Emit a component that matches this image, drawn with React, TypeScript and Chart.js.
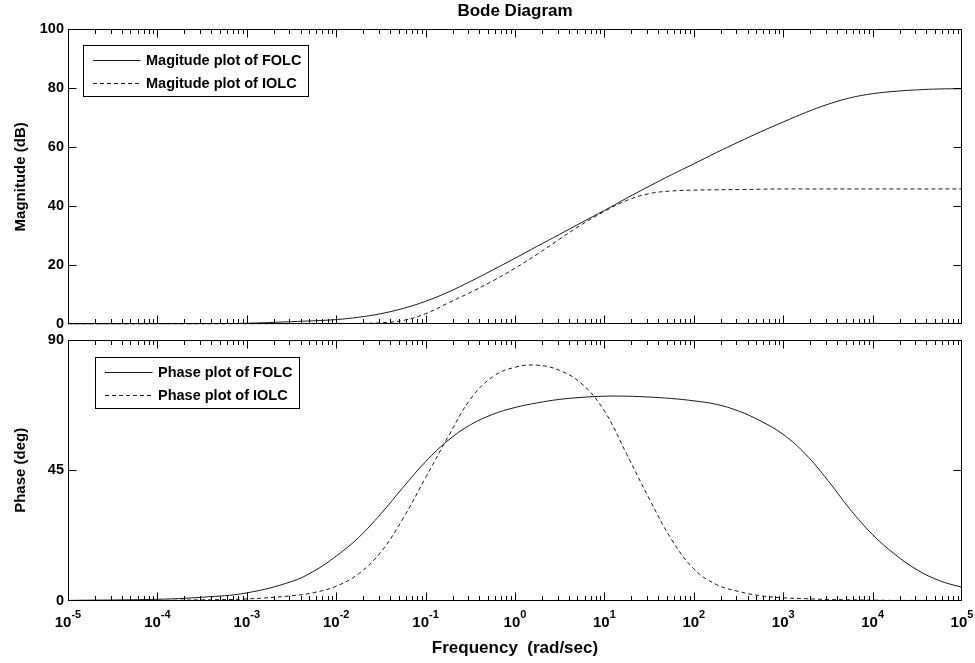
import React, { useEffect, useRef } from 'react';
import { Chart, registerables } from 'chart.js';

Chart.register(...registerables);

const FONT = '"Liberation Sans", Arial, Helvetica, sans-serif';
Chart.defaults.font.family = FONT;

// Frequency grid (rad/sec)
const frequency = [
  1e-5, 1e-4, 3.16e-4, 1e-3, 3.16e-3, 5.62e-3, 1e-2, 1.78e-2, 3.16e-2, 5.62e-2,
  0.1, 0.178, 0.316, 0.562, 1, 1.78, 3.16, 5.62, 10, 17.8,
  31.6, 56.2, 100, 178, 316, 562, 1000, 1778, 3162, 5623,
  1e4, 17780, 31620, 56230, 1e5,
];

// Magnitude (dB)
const magnitudeFOLC = [
  0, 0.05, 0.15, 0.35, 0.9, 1.2, 1.6, 2.4, 3.6, 5.4,
  7.8, 10.9, 14.5, 18.4, 22.4, 26.5, 30.5, 34.6, 38.6, 42.8,
  46.8, 50.7, 54.4, 58.2, 61.8, 65.3, 68.6, 71.8, 74.6, 76.8,
  78.2, 79.0, 79.5, 79.8, 79.9,
];
const magnitudeIOLC = [
  0, 0, 0, 0.02, 0.05, 0.1, 0.15, 0.3, 0.5, 1.3,
  3.6, 7.2, 10.8, 14.7, 19.0, 23.8, 28.9, 33.9, 38.3, 42.0,
  44.3, 45.2, 45.5, 45.6, 45.7, 45.8, 45.9, 45.9, 45.9, 45.9,
  45.9, 45.9, 45.9, 45.9, 45.9,
];

// Phase (deg)
const phaseFOLC = [
  0.1, 0.5, 1.2, 2.7, 6.6, 10.2, 15.4, 21.8, 30.0, 39.2,
  48.0, 55.3, 60.7, 64.3, 66.7, 68.3, 69.5, 70.2, 70.6, 70.6,
  70.3, 69.8, 69.0, 67.8, 65.5, 62.0, 57.4, 50.6, 41.5, 31.5,
  22.8, 16.0, 10.6, 6.9, 4.6,
];
const phaseIOLC = [
  0, 0.1, 0.3, 0.6, 1.7, 2.8, 5.0, 9.3, 16.8, 28.5,
  42.5, 56.5, 69.5, 77.3, 80.6, 81.3, 79.5, 74.8, 65.5, 50.5,
  35.3, 21.2, 11.0, 5.6, 3.2, 1.7, 1.0, 0.7, 0.4, 0.3,
  0.2, 0.1, 0.1, 0, 0,
];

// Decade ticks of the frequency axis
const decades = [1e-5, 1e-4, 1e-3, 1e-2, 1e-1, 1, 10, 100, 1e3, 1e4, 1e5];
const decadeExponents = ['-5', '-4', '-3', '-2', '-1', '0', '1', '2', '3', '4', '5'];
const minorMultipliers = [2, 3, 4, 5, 6, 7, 8, 9];

const toPoints = (ys: number[]) => frequency.map((f, i) => ({ x: f, y: ys[i] }));

const matlabAxesPlugin = {
  id: 'matlabAxes',
  afterDatasetsDraw(chart: any, _args: any, opts: any) {
    const { ctx, chartArea } = chart;
    const xs = chart.scales.x;
    const ys = chart.scales.y;
    const l = Math.round(chartArea.left) + 0.5;
    const r = Math.round(chartArea.right) - 0.5;
    const t = Math.round(chartArea.top) + 0.5;
    const b = Math.round(chartArea.bottom) - 0.5;
    const clampX = (v: number) => Math.min(r, Math.max(l, v));
    const clampY = (v: number) => Math.min(b, Math.max(t, v));
    ctx.save();
    ctx.strokeStyle = '#000';
    ctx.lineWidth = 1;
    ctx.setLineDash([]);
    ctx.beginPath();
    const major = 8;
    const minor = 4.5;
    decades.forEach((d, i) => {
      const px = clampX(Math.round(xs.getPixelForValue(d)) + 0.5);
      ctx.moveTo(px, b); ctx.lineTo(px, b - major);
      ctx.moveTo(px, t); ctx.lineTo(px, t + major);
      if (i < decades.length - 1) {
        minorMultipliers.forEach((m) => {
          const mx = clampX(Math.round(xs.getPixelForValue(m * d)) + 0.5);
          ctx.moveTo(mx, b); ctx.lineTo(mx, b - minor);
          ctx.moveTo(mx, t); ctx.lineTo(mx, t + minor);
        });
      }
    });
    ys.ticks.forEach((tk: any) => {
      const py = clampY(Math.round(ys.getPixelForValue(tk.value)) + 0.5);
      ctx.moveTo(l, py); ctx.lineTo(l + major, py);
      ctx.moveTo(r, py); ctx.lineTo(r - major, py);
    });
    ctx.stroke();
    ctx.strokeRect(l, t, r - l, b - t);

    if (opts.xLabels) {
      ctx.fillStyle = '#000';
      ctx.textAlign = 'left';
      ctx.textBaseline = 'alphabetic';
      decades.forEach((d, i) => {
        const px = xs.getPixelForValue(d);
        ctx.font = `bold 15px ${FONT}`;
        const w1 = ctx.measureText('10').width;
        ctx.font = `bold 11px ${FONT}`;
        const w2 = ctx.measureText(decadeExponents[i]).width;
        const x0 = px - (w1 + w2) / 2;
        ctx.font = `bold 15px ${FONT}`;
        ctx.fillText('10', x0, chartArea.bottom + 26);
        ctx.font = `bold 11px ${FONT}`;
        ctx.fillText(decadeExponents[i], x0 + w1, chartArea.bottom + 17.5);
      });
    }

    if (opts.legend) {
      const { dx, dy } = opts.legend;
      const ds = chart.data.datasets;
      ctx.font = `bold 14.5px ${FONT}`;
      const textW = Math.max(...ds.map((d: any) => ctx.measureText(d.label).width));
      const bx = Math.round(chartArea.left + dx) + 0.5;
      const by = Math.round(chartArea.top + dy) + 0.5;
      const bw = Math.round(9.5 + 47.5 + 5.5 + textW + 7);
      const bh = 51;
      ctx.fillStyle = '#fff';
      ctx.fillRect(bx, by, bw, bh);
      ctx.strokeStyle = '#000';
      ctx.strokeRect(bx, by, bw, bh);
      ds.forEach((d: any, i: number) => {
        const ry = Math.round(by + 14.5 + i * 22.5) + 0.5;
        ctx.setLineDash(d.borderDash || []);
        ctx.strokeStyle = d.borderColor;
        ctx.beginPath();
        ctx.moveTo(bx + 9.5, ry);
        ctx.lineTo(bx + 57, ry);
        ctx.stroke();
        ctx.setLineDash([]);
        ctx.fillStyle = '#000';
        ctx.textAlign = 'left';
        ctx.textBaseline = 'middle';
        ctx.fillText(d.label, bx + 62.5, ry + 0.5);
      });
    }
    ctx.restore();
  },
};

const lineStyle = (label: string, data: number[], dashed: boolean) => ({
  label,
  data: toPoints(data),
  borderColor: '#1a1a1a',
  borderWidth: 1,
  borderDash: dashed ? [4, 3] : [],
  pointRadius: 0,
  fill: false,
  tension: 0.4,
});

const yAxis = (title: string, max: number, step: number) => ({
  type: 'linear' as const,
  position: 'left' as const,
  min: 0,
  max,
  ticks: { stepSize: step, color: '#000', padding: 4, font: { size: 14.5, weight: 'bold' as const } },
  grid: { display: false, drawTicks: false },
  border: { display: false },
  title: { display: true, text: title, color: '#000', padding: { top: 12, bottom: 0 }, font: { size: 15, weight: 'bold' as const } },
  afterFit: (s: any) => { s.width = 68; },
});

export default function App() {
  const topRef = useRef<HTMLCanvasElement | null>(null);
  const botRef = useRef<HTMLCanvasElement | null>(null);

  useEffect(() => {
    const top = new Chart(topRef.current as HTMLCanvasElement, {
      type: 'line',
      data: {
        datasets: [
          lineStyle('Magitude plot of FOLC', magnitudeFOLC, false),
          lineStyle('Magitude plot of IOLC', magnitudeIOLC, true),
        ],
      },
      options: {
        responsive: false,
        animation: false,
        layout: { padding: { left: 0, right: 13, top: 0, bottom: 15.7 } },
        scales: {
          x: { type: 'logarithmic', min: 1e-5, max: 1e5, display: false },
          y: yAxis('Magnitude (dB)', 100, 20),
        },
        plugins: {
          legend: { display: false },
          tooltip: { enabled: false },
          title: {
            display: true,
            text: 'Bode Diagram',
            color: '#000',
            fullSize: false,
            font: { size: 17, weight: 'bold' },
            padding: { top: 1, bottom: 8 },
          },
          matlabAxes: { legend: { dx: 15.3, dy: 15.7 }, xLabels: false },
        } as any,
      },
      plugins: [matlabAxesPlugin],
    });

    const bottom = new Chart(botRef.current as HTMLCanvasElement, {
      type: 'line',
      data: {
        datasets: [
          lineStyle('Phase plot of FOLC', phaseFOLC, false),
          lineStyle('Phase plot of IOLC', phaseIOLC, true),
        ],
      },
      options: {
        responsive: false,
        animation: false,
        layout: { padding: { left: 0, right: 13, top: 15, bottom: 0 } },
        scales: {
          x: {
            type: 'logarithmic',
            min: 1e-5,
            max: 1e5,
            position: 'bottom',
            ticks: { display: false },
            grid: { display: false, drawTicks: false },
            border: { display: false },
            title: {
              display: true,
              text: 'Frequency  (rad/sec)',
              color: '#000',
              font: { size: 17, weight: 'bold' },
              padding: { top: 0, bottom: 4.3 },
            },
            afterFit: (s: any) => { s.height = 62.3; },
          },
          y: yAxis('Phase (deg)', 90, 45),
        },
        plugins: {
          legend: { display: false },
          tooltip: { enabled: false },
          matlabAxes: { legend: { dx: 27, dy: 16.7 }, xLabels: true },
        } as any,
      },
      plugins: [matlabAxesPlugin],
    });

    return () => {
      top.destroy();
      bottom.destroy();
    };
  }, []);

  return (
    <div style={{ position: 'absolute', left: 0, top: 0, width: 975, height: 663, background: '#fff' }}>
      <canvas ref={topRef} width={975} height={340} style={{ position: 'absolute', left: 0, top: 0, width: 975, height: 340 }} />
      <canvas ref={botRef} width={975} height={338} style={{ position: 'absolute', left: 0, top: 325, width: 975, height: 338 }} />
    </div>
  );
}
